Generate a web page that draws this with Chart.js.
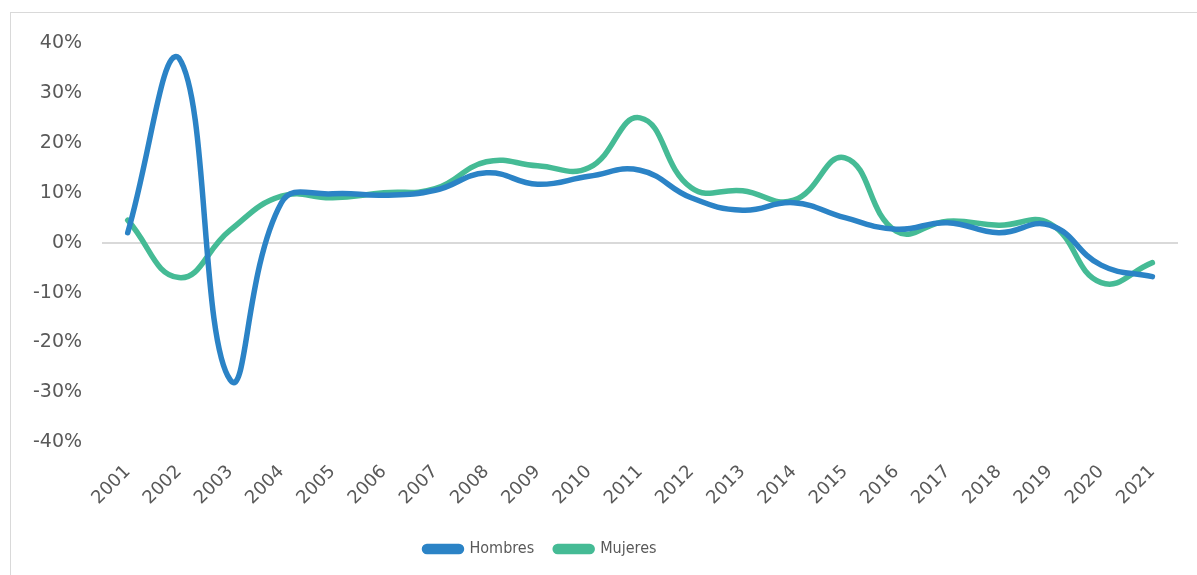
<!DOCTYPE html>
<html>
<head>
<meta charset="utf-8">
<script src="https://cdn.jsdelivr.net/npm/chart.js@4"></script>
<style>
  html, body { margin: 0; padding: 0; background: #fff; }
  #box {
    position: absolute; left: 10px; top: 12px; width: 1200px; height: 580px;
    border: 1px solid #d9d9d9; box-sizing: border-box;
  }
  #wrap { position: absolute; left: 0; top: 0; width: 1197px; height: 575px; }
</style>
</head>
<body>
<div id="box"></div>
<div id="wrap"><canvas id="myChart" width="1197" height="575"></canvas></div>
<script>
var years = ['2001', '2002', '2003', '2004', '2005', '2006', '2007', '2008', '2009', '2010', '2011',
  '2012', '2013', '2014', '2015', '2016', '2017', '2018', '2019', '2020', '2021'];
var hombres = [2, 37, -27.5, 8, 9.8, 9.5, 10.5, 14, 11.7, 13.3, 14.5,
  9, 6.5, 8, 5, 2.7, 4, 2, 3.5, -4.5, -6.8];
var mujeres = [4.5, -7, 2.5, 9.3, 9, 10, 10.8, 16.2, 15.4, 15, 25,
  11, 10.4, 8.5, 17, 2.3, 4.3, 3.5, 3.8, -8, -4];
var yTicks = [-40, -30, -20, -10, 0, 10, 20, 30, 40];

Chart.defaults.font.family = '"DejaVu Sans", sans-serif';
Chart.defaults.color = '#595959';

// the legend in the original sits left of centre
var legendShift = {
  id: 'legendShift',
  afterLayout: function (chart) {
    chart.legend.left -= 55;
    chart.legend.right -= 55;
  }
};

var ctx = document.getElementById('myChart').getContext('2d');
var myChart = new Chart(ctx, {
  type: 'line',
  data: {
    labels: years,
    datasets: [{
      label: 'Hombres',
      data: hombres,
      borderColor: '#2b83c6',
      backgroundColor: '#2b83c6',
      borderWidth: 5.5,
      tension: 0.45,
      pointRadius: 0,
      borderCapStyle: 'round'
    },
    {
      label: 'Mujeres',
      data: mujeres,
      borderColor: '#45bb95',
      backgroundColor: '#45bb95',
      borderWidth: 5.5,
      tension: 0.45,
      pointRadius: 0,
      borderCapStyle: 'round'
    }]
  },
  plugins: [legendShift],
  options: {
    responsive: false,
    animation: false,
    layout: { padding: { left: 13, right: 19, top: 43, bottom: 8 } },
    scales: {
      x: {
        offset: true,
        grid: { display: false },
        border: { display: false },
        ticks: { font: { size: 18 }, maxRotation: 45, minRotation: 45, padding: 11, autoSkip: false }
      },
      y: {
        min: -40,
        max: 40,
        afterBuildTicks: function (axis) {
          axis.ticks = yTicks.map(function (v) { return { value: v }; });
        },
        grid: {
          drawTicks: false,
          color: function (c) { return c.tick && c.tick.value === 0 ? '#d9d9d9' : 'rgba(0,0,0,0)'; },
          lineWidth: 2
        },
        border: { display: false },
        ticks: {
          font: { size: 19 },
          padding: 20,
          callback: function (v) { return v + '%'; }
        }
      }
    },
    plugins: {
      legend: {
        position: 'bottom',
        labels: {
          font: { family: '"DejaVu Sans Condensed", sans-serif', size: 16 },
          boxWidth: 37,
          boxHeight: 5,
          useBorderRadius: true,
          borderRadius: 2.5,
          padding: 21
        }
      },
      tooltip: { enabled: false }
    }
  }
});
</script>
</body>
</html>
